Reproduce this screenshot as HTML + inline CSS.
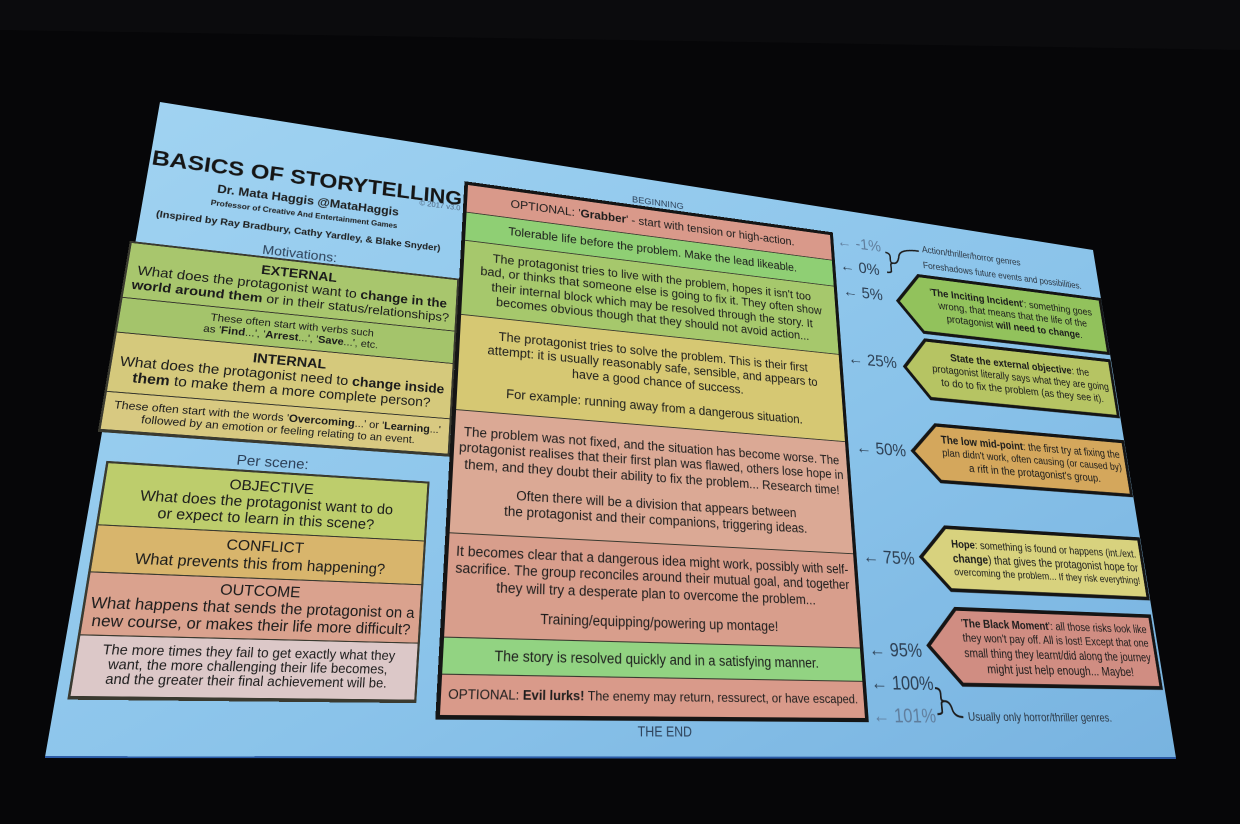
<!DOCTYPE html>
<html><head><meta charset="utf-8">
<style>
html,body{margin:0;padding:0}
body{width:1240px;height:824px;background:#060608;overflow:hidden;position:relative;font-family:"Liberation Sans","DejaVu Sans",sans-serif;color:#1c1c1c}
#L{position:absolute;left:0;top:0;width:1px;height:1px;transform-origin:0 0}
#L div{box-sizing:border-box}
.a{position:absolute}
.sec{position:absolute;display:flex;flex-direction:column;justify-content:center;align-items:stretch;text-align:center;border-bottom:1.5px solid #3a3a30;overflow:visible}
.ln{display:block;white-space:nowrap}
.gap{height:12px}
.lab{position:absolute;white-space:nowrap;color:#2c4058}
.pct{position:absolute;white-space:nowrap;color:#2c3e52;font-size:19px;transform:translateY(-50%)}
.pct.l{color:#5f7d9c}
</style></head>
<body>
<svg width="1240" height="824" style="position:absolute;left:0;top:0">
<defs><linearGradient id="g" x1="0" y1="0" x2="1" y2="1">
<stop offset="0" stop-color="#a2d4f2"/><stop offset="0.6" stop-color="#8ac3ea"/><stop offset="1" stop-color="#78b3e0"/></linearGradient></defs>
<rect x="0" y="0" width="1240" height="824" fill="#060608"/>
<polygon points="0,0 1240,0 1240,50 0,30" fill="#0b0b0d"/>
<polygon points="160,102 1093,250 1176,758 45,757" fill="url(#g)"/>
<line x1="45" y1="757" x2="1176" y2="758" stroke="#2b5aa5" stroke-width="2"/>
</svg>
<div id="L"></div>
<script>
(function(){
const L=document.getElementById('L');
const P=[[468,185],[830,235],[865,718],[440,715]],W=430,HH=540;
const [x0,y0]=P[0],[x1,y1]=P[1],[x2,y2]=P[2],[x3,y3]=P[3];
const sx=x0-x1+x2-x3, sy=y0-y1+y2-y3;
const dx1=x1-x2,dx2=x3-x2,dy1=y1-y2,dy2=y3-y2,det=dx1*dy2-dx2*dy1;
let g=(sx*dy2-dx2*sy)/det, h=(dx1*sy-sx*dy1)/det;
let a=x1-x0+g*x1, b=x3-x0+h*x3, c=x0, d=y1-y0+g*y1, e=y3-y0+h*y3, f=y0;
a/=W; d/=W; g/=W; b/=HH; e/=HH; h/=HH;
L.style.transform=`matrix3d(${a},${d},0,${g},${b},${e},0,${h},0,0,1,0,${c},${f},0,1)`;
const A=e-f*h, B=-(d-f*g), C=d*h-e*g, D=-(b-c*h), E=a-c*g, F=-(a*h-b*g), G=b*f-c*e, H2=-(a*f-c*d), I=a*e-b*d;
function tf(x,y){const X=A*x+D*y+G,Y=B*x+E*y+H2,Z=C*x+F*y+I;return [X/Z,Y/Z];}
function el(x,y,w,h,cls,html,st){const q=document.createElement('div');q.className=cls||'a';q.style.left=x+'px';q.style.top=y+'px';if(w!=null)q.style.width=w+'px';if(h!=null)q.style.height=h+'px';if(st)q.style.cssText+=st;q.innerHTML=html||'';L.appendChild(q);return q;}
function lines(arr){return arr.map(s=>s===''?'<div class="gap"></div>':'<span class="ln">'+s+'</span>').join('');}
function col(X0,X1,lx,ys,secs,bw,bc){
  const fy=ys.map(y=>tf(lx(y),y)[1]);
  el(X0-bw,fy[0]-bw,X1-X0+2*bw,fy[fy.length-1]-fy[0]+2*bw,'a','', 'border:'+bw+'px solid '+bc+';box-sizing:border-box');
  secs.forEach((s,i)=>{el(X0,fy[i],X1-X0,fy[i+1]-fy[i],'sec',lines(s.t),'background:'+s.bg+';'+(s.st||'')+(i==secs.length-1?'border-bottom:none;':''));});
}
function lab(cx,cy,html,st){const p=tf(cx,cy);return el(p[0],p[1],null,null,'lab',html,'transform:translate(-50%,-50%);'+(st||''));}
const t1=tf(152,158),t2=tf(463,186);
const T=el(t1[0],t1[1],null,null,'lab','BASICS OF STORYTELLING','font-weight:bold;font-size:27px;color:#151515;transform:translateY(-50%)');
const tw=T.scrollWidth,target=Math.hypot(t2[0]-t1[0],t2[1]-t1[1]);
T.style.fontSize=(27*target/tw)+'px';
lab(310,201,'Dr. Mata Haggis @MataHaggis','font-weight:bold;font-size:12.5px;color:#1c1c1c');
lab(306,215,'Professor of Creative And Entertainment Games','font-weight:bold;font-size:8px;color:#1c1c1c');
lab(303,232,'(Inspired by Ray Bradbury, Cathy Yardley, &amp; Blake Snyder)','font-weight:bold;font-size:10px;color:#1c1c1c');
lab(440,206,'© 2017 v3.0','font-size:8px;color:#4d6580');
lab(300,254,'Motivations:','font-size:13.5px');
lab(273,462,'Per scene:','font-size:13.5px');
lab(658,203,'BEGINNING','font-size:11px');
lab(665,732,'THE END','font-size:12.5px');
let q=tf(132,243),r=tf(457,277);
col(q[0],r[0],y=>132-(y-243)*35/187,[243,298,332,392,430],[
 {bg:'#a8c66d',t:['<b>EXTERNAL</b>','What does the protagonist want to <b>change in the</b>','<b>world around them</b> or in their status/relationships?'],st:'font-size:13.5px;line-height:1.1'},
 {bg:'#a4c46b',t:['These often start with verbs such','as \'<b>Find</b>...\', \'<b>Arrest</b>...\', \'<b>Save</b>...\', etc.'],st:'font-size:10.5px;line-height:1.15'},
 {bg:'#d5c97c',t:['<b>INTERNAL</b>','What does the protagonist need to <b>change inside</b>','<b>them</b> to make them a more complete person?'],st:'font-size:13.5px;line-height:1.1'},
 {bg:'#d8c981',t:['These often start with the words \'<b>Overcoming</b>...\' or \'<b>Learning</b>...\'','followed by an emotion or feeling relating to an event.'],st:'font-size:10.5px;line-height:1.15'}
],2,'#3a3a30');
q=tf(108,463);r=tf(427,488);
col(q[0],r[0],y=>108-(y-463)*36/234,[463,525,572,635,697],[
 {bg:'#bdcd6c',t:['OBJECTIVE','What does the protagonist want to do','or expect to learn in this scene?'],st:'font-size:13.5px;line-height:1.12'},
 {bg:'#d8b56c',t:['CONFLICT','What prevents this from happening?'],st:'font-size:13.5px;line-height:1.12'},
 {bg:'#daa28e',t:['OUTCOME','What happens that sends the protagonist on a','new course, or makes their life more difficult?'],st:'font-size:13.5px;line-height:1.12'},
 {bg:'#dcc8c8',t:['The more times they fail to get exactly what they','want, the more challenging their life becomes,','and the greater their final achievement will be.'],st:'font-size:11.5px;line-height:1.2'}
],2,'#3a3a30');
col(0,430,y=>468-(y-185)*28/530,[185,213,241,315,410,533,638,675,715],[
 {bg:'#d9998a',t:['OPTIONAL: \'<b>Grabber</b>\' - start with tension or high-action.']},
 {bg:'#8fcf74',t:['Tolerable life before the problem. Make the lead likeable.']},
 {bg:'#a6c86c',t:['The protagonist tries to live with the problem, hopes it isn\'t too','bad, or thinks that someone else is going to fix it. They often show','their internal block which may be resolved through the story. It','becomes obvious though that they should not avoid action...']},
 {bg:'#d6c873',t:['The protagonist tries to solve the problem. This is their first','attempt: it is usually reasonably safe, sensible, and appears to','have a good chance of success.','','For example: running away from a dangerous situation.']},
 {bg:'#dba995',t:['The problem was not fixed, and the situation has become worse. The','protagonist realises that their first plan was flawed, others lose hope in','them, and they doubt their ability to fix the problem... Research time!','','Often there will be a division that appears between','the protagonist and their companions, triggering ideas.']},
 {bg:'#d89e8c',t:['It becomes clear that a dangerous idea might work, possibly with self-','sacrifice. The group reconciles around their mutual goal, and together','they will try a desperate plan to overcome the problem...','','Training/equipping/powering up montage!']},
 {bg:'#92d382',t:['The story is resolved quickly and in a satisfying manner.']},
 {bg:'#d99a8a',t:['OPTIONAL: <b>Evil lurks!</b> The enemy may return, ressurect, or have escaped.']}
],4,'#151515');
L.querySelectorAll('.sec').forEach(s=>{if(!s.style.fontSize){s.style.fontSize='13.5px';s.style.lineHeight='1.22';}s.style.padding='0 4px';});
function arrow(tip,tl,br,bg,html){
  const pt=tf(tip[0],tip[1]),p1=tf(tl[0],tl[1]),p2=tf(br[0],br[1]);
  const x=pt[0],y=p1[1],w=p2[0]-pt[0],hh=p2[1]-p1[1],tw=p1[0]-pt[0];
  el(x,y,w,hh,'a',`<svg width="${w}" height="${hh}" style="position:absolute;left:0;top:0;overflow:visible"><polygon points="${tw},2 ${w-2},2 ${w-2},${hh-2} ${tw},${hh-2} 2,${hh/2}" fill="${bg}" stroke="#151515" stroke-width="4" stroke-linejoin="miter"/></svg>`);
  el(p1[0],y,p2[0]-p1[0]-4,hh,'sec',html,'border:none;font-size:13px;line-height:1.25;padding:0 4px');
}
arrow([896,297],[918,274],[1110,355],'#92c25c',lines(['\'<b>The Inciting Incident</b>\': something goes','wrong, that means that the life of the','protagonist <b>will need to change</b>.']));
arrow([903,362],[925,338],[1120,418],'#b6c463',lines(['<b>State the external objective</b>: the','protagonist literally says what they are going','to do to fix the problem (as they see it).']));
arrow([911,450],[935,423],[1133,497],'#d4a75c',lines(['<b>The low mid-point</b>: the first try at fixing the','plan didn\'t work, often causing (or caused by)','a rift in the protagonist\'s group.']));
arrow([920,560],[945,525],[1150,600],'#d8d27e',lines(['<b>Hope</b>: something is found or happens (int./ext.','<b>change</b>) that gives the protagonist hope for','overcoming the problem... If they risk everything!']));
arrow([927,647],[955,607],[1163,690],'#d08d82',lines(['\'<b>The Black Moment</b>\': all those risks look like','they won\'t pay off. All is lost! Except that one','small thing they learnt/did along the journey','might just help enough... Maybe!']));
[[837,242,'← -1%',1],[840,266,'← 0%'],[843,292,'← 5%'],[848,359,'← 25%'],[856,448,'← 50%'],[863,558,'← 75%'],[869,651,'← 95%'],[871,684,'← 100%'],[873,717,'← 101%',1]].forEach(p=>{const t=tf(p[0],p[1]);el(t[0],t[1],null,null,'pct'+(p[3]?' l':''),p[2]);});
let bt=tf(922,250);el(bt[0],bt[1],null,null,'lab','Action/thriller/horror genres','font-size:11.5px;color:#2a3440;transform:translateY(-50%)');
bt=tf(923,266);el(bt[0],bt[1],null,null,'lab','Foreshadows future events and possibilities.','font-size:11.5px;color:#2a3440;transform:translateY(-50%)');
bt=tf(968,717);el(bt[0],bt[1],null,null,'lab','Usually only horror/thriller genres.','font-size:12px;color:#2a3440;transform:translateY(-50%)');
function brace(top,bot,end){const p=tf(top[0],top[1]),p2=tf(bot[0],bot[1]),pe=tf(end[0],end[1]);
 const x=p[0],y=p[1],hh=p2[1]-p[1],m=hh/2,ex=pe[0]-x,ey=pe[1]-y;
 el(x,y,1,1,'a',`<svg width="10" height="10" style="position:absolute;left:0;top:0;overflow:visible"><path d="M0,0 Q6,0 6,${m*0.4} L6,${m*0.8} Q6,${m} 10,${m} Q6,${m} 6,${m*1.2} L6,${hh*0.9} Q6,${hh} 0,${hh} M10,${m} Q16,${m} 18,${(m+ey)/2} Q20,${ey} ${ex-2},${ey}" fill="none" stroke="#1c1c1c" stroke-width="2"/></svg>`);}
brace([885,252],[888,272],[920,251]);
brace([935,688],[937,714],[965,717]);
L.querySelectorAll('.ln').forEach(s=>{const cw=s.clientWidth,sw=s.scrollWidth;if(sw>cw&&cw>0){const fs=parseFloat(getComputedStyle(s).fontSize);s.style.fontSize=(fs*cw/sw*0.99)+'px';}});
})();
</script>
</body></html>
